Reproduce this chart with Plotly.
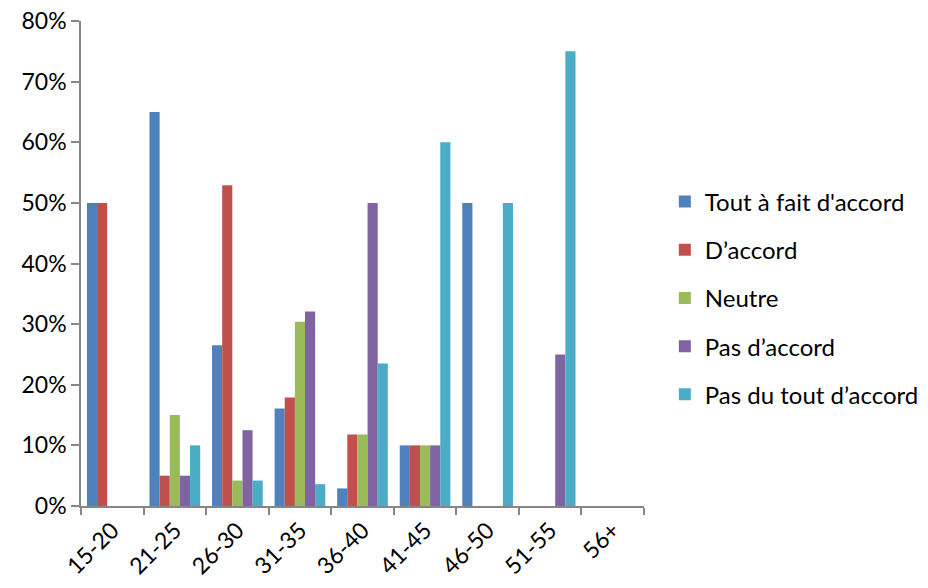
import plotly.graph_objects as go

categories = ["15-20", "21-25", "26-30", "31-35", "36-40", "41-45", "46-50", "51-55", "56+"]

tout_a_fait = [0.50, 0.65, 0.265, 0.161, 0.029, 0.10, 0.50, None, None]
d_accord = [0.50, 0.05, 0.529, 0.179, 0.118, 0.10, None, None, None]
neutre = [None, 0.15, 0.042, 0.304, 0.118, 0.10, None, None, None]
pas_d_accord = [None, 0.05, 0.125, 0.321, 0.50, 0.10, None, 0.25, None]
pas_du_tout = [None, 0.10, 0.042, 0.036, 0.235, 0.60, 0.50, 0.75, None]

SERIES = [
    ("Tout à fait d'accord", tout_a_fait, "#4F81BD"),
    ("D\u2019accord", d_accord, "#C0504D"),
    ("Neutre", neutre, "#9BBB59"),
    ("Pas d\u2019accord", pas_d_accord, "#8064A2"),
    ("Pas du tout d\u2019accord", pas_du_tout, "#4BACC6"),
]

AXIS_COLOR = "#868686"
FONT = "Lato, Liberation Sans, Arial, sans-serif"

fig = go.Figure()
for i, (nom, valeurs, couleur) in enumerate(SERIES):
    fig.add_trace(
        go.Bar(
            x=categories,
            y=valeurs,
            name=nom,
            marker_color=couleur,
            marker_line_width=0,
            legendgroup=str(i),
        )
    )

fig.update_layout(
    width=928,
    height=588,
    barmode="group",
    bargap=0.19,
    bargroupgap=0,
    paper_bgcolor="white",
    plot_bgcolor="white",
    font=dict(family=FONT, size=22, color="#000000"),
    margin=dict(l=81, r=284, t=21, b=82, autoexpand=False),
    legend=dict(
        x=1.037,
        xanchor="left",
        y=0.429,
        yanchor="middle",
        font=dict(size=24),
        tracegroupgap=14,
        traceorder="grouped",
        itemwidth=30,
    ),
)
fig.update_xaxes(
    type="category",
    showline=True,
    linecolor=AXIS_COLOR,
    linewidth=1.5,
    ticks="outside",
    tickson="boundaries",
    ticklen=7,
    tickcolor=AXIS_COLOR,
    tickwidth=1.5,
    tickangle=-45,
    tickfont=dict(size=23),
    showgrid=False,
)
fig.update_yaxes(
    range=[0, 0.8],
    dtick=0.1,
    tickformat=".0%",
    showline=True,
    linecolor=AXIS_COLOR,
    linewidth=1.5,
    ticks="outside",
    ticklen=8,
    tickcolor=AXIS_COLOR,
    tickwidth=1.5,
    tickfont=dict(size=23),
    showgrid=False,
    zeroline=False,
)

# pas de marge par défaut autour du graphique dans la page
fig.write_html(
    "out.html",
    config={"displayModeBar": False},
    post_script="document.body.style.margin = '0';",
)
